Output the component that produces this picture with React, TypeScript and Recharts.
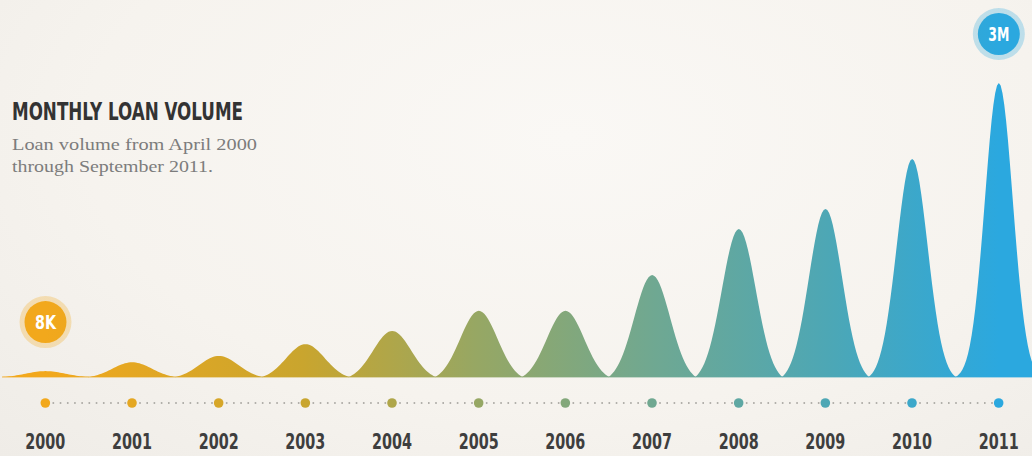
import React from 'react';
import { BarChart, Bar, XAxis, YAxis } from 'recharts';

// loan volume per year, in thousands
const years = ['2000', '2001', '2002', '2003', '2004', '2005', '2006', '2007', '2008', '2009', '2010', '2011'];
const volumeK = [60, 150, 215, 335, 470, 675, 675, 1040, 1510, 1715, 2225, 3000];
const badgeLabels = ['8K', '', '', '', '', '', '', '', '', '', '', '3M'];

const data = years.map((year, i) => ({ year, volume: volumeK[i], badge: badgeLabels[i] }));

const W = 1032;
const H = 456;
// the last hump runs past the right edge, as in the original
const MARGIN = { top: 83, right: -10, left: 2, bottom: 0 };
const STEP = (W - MARGIN.left - MARGIN.right) / years.length;
const MAX_V = 3000;

const CONDENSED = "'Liberation Sans Narrow', 'DejaVu Sans Condensed', 'Roboto Condensed', Roboto, sans-serif";
const SERIF = "'Liberation Serif', 'DejaVu Serif', serif";

function BellShape(props: any) {
  const { x, y, width, height, payload } = props;
  const cx = x + width / 2;
  const base = y + height;
  const ratio = height / ((props.background?.height as number) || height || 1);
  // small humps are flatter and wider, tall ones get narrower
  const sigma = width * (0.23 - 0.07 * Math.min(1, ratio));
  const half = width / 2;
  const edge = Math.exp(-(half * half) / (2 * sigma * sigma));
  const pts: string[] = [];
  const n = 48;
  for (let k = 0; k <= n; k++) {
    const dx = -half + (k / n) * width;
    const g = (Math.exp(-(dx * dx) / (2 * sigma * sigma)) - edge) / (1 - edge);
    pts.push(`${(cx + dx).toFixed(2)},${(base - height * g).toFixed(2)}`);
  }
  const d = `M${x},${base} L${pts.join(' L')} L${x + width},${base} Z`;
  return (
    <g>
      <line x1={x} x2={x + width} y1={base} y2={base} stroke="url(#loanGrad)" strokeWidth={1.5} opacity={0.5} />
      <path d={d} fill="url(#loanGrad)" />
      {payload.badge ? (
        <g>
          <circle cx={cx} cy={y - 49} r={26} fill="url(#loanGrad)" opacity={0.28} />
          <circle cx={cx} cy={y - 49} r={21} fill="url(#loanGrad)" />
          <text
            x={cx}
            y={y - 42}
            textAnchor="middle"
            fill="#FFFFFF"
            fontFamily={CONDENSED}
            fontWeight={700}
            fontSize={19}
            textLength={21}
            lengthAdjust="spacingAndGlyphs"
          >
            {payload.badge}
          </text>
        </g>
      ) : null}
    </g>
  );
}

function YearTick(props: any) {
  const { x, y, payload } = props;
  const i = payload.index;
  const dotY = y + 26;
  return (
    <g>
      {i < years.length - 1 ? (
        <line x1={x} x2={x + STEP} y1={dotY} y2={dotY} stroke="#9C9A95" strokeWidth={1.6} strokeDasharray="1.6 5.6" />
      ) : null}
      <circle cx={x} cy={dotY} r={4.8} fill="url(#loanGrad)" />
      <text
        x={x}
        y={y + 72}
        textAnchor="middle"
        fill="#3E3E3E"
        fontFamily={CONDENSED}
        fontWeight={700}
        fontSize={22}
        textLength={40}
        lengthAdjust="spacingAndGlyphs"
      >
        {payload.value}
      </text>
    </g>
  );
}

export default function App() {
  return (
    <div
      style={{
        position: 'relative',
        width: W,
        height: H,
        overflow: 'hidden',
        background: 'radial-gradient(ellipse at 55% 30%, #FAF8F5 0%, #F6F3EE 60%, #EFECE7 100%)',
      }}
    >
      <style>{'body{margin:0}'}</style>
      <BarChart width={W} height={H} data={data} margin={MARGIN} barCategoryGap={0} barGap={0}>
        <defs>
          <linearGradient id="loanGrad" gradientUnits="userSpaceOnUse" x1={45} y1={0} x2={999} y2={0}>
            <stop offset="0%" stopColor="#F2A81C" />
            <stop offset="27%" stopColor="#C9A52E" />
            <stop offset="45%" stopColor="#97A763" />
            <stop offset="64%" stopColor="#6FA892" />
            <stop offset="82%" stopColor="#4DA7B5" />
            <stop offset="100%" stopColor="#2BA8DF" />
          </linearGradient>
        </defs>
        <XAxis
          dataKey="year"
          height={79}
          axisLine={false}
          tickLine={false}
          tickSize={0}
          tickMargin={0}
          interval={0}
          tick={<YearTick />}
        />
        <YAxis hide domain={[0, MAX_V]} />
        <Bar dataKey="volume" isAnimationActive={false} shape={<BellShape />} />
      </BarChart>
      <svg width={W} height={200} style={{ position: 'absolute', left: 0, top: 0, pointerEvents: 'none' }}>
        <text
          x={12}
          y={120}
          fill="#333333"
          fontFamily={CONDENSED}
          fontWeight={700}
          fontSize={25}
          textLength={231}
          lengthAdjust="spacingAndGlyphs"
        >
          MONTHLY LOAN VOLUME
        </text>
        <text x={12} y={150} fill="#7C7C7C" fontFamily={SERIF} fontSize={17} textLength={245} lengthAdjust="spacingAndGlyphs">
          Loan volume from April 2000
        </text>
        <text x={12} y={172} fill="#7C7C7C" fontFamily={SERIF} fontSize={17} textLength={201} lengthAdjust="spacingAndGlyphs">
          through September 2011.
        </text>
      </svg>
    </div>
  );
}
